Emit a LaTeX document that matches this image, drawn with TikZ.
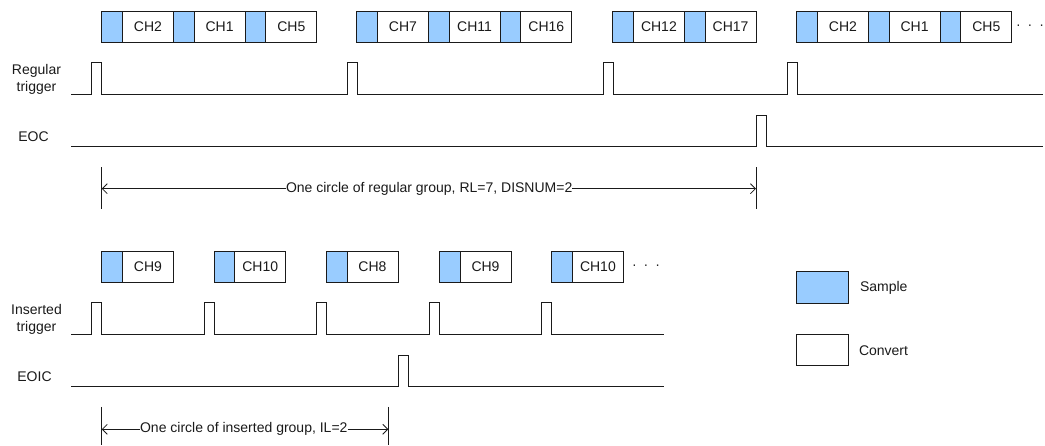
\documentclass[tikz,border=0pt]{standalone}
\usepackage{fontspec}
\setmainfont{Liberation Sans}
\usetikzlibrary{arrows.meta}
\definecolor{sblue}{HTML}{99CCFF}
\definecolor{ink}{HTML}{1A1A1A}
\newcommand\chan[4]{%
  \node[samp] (#1s) at (#2,#3) {};
  \node[conv] (#1c) at (#1s.north east) {#4};}
\begin{document}
\begin{tikzpicture}[x=1pt,y=-1pt,
  every node/.style={font=\fontsize{14}{17}\selectfont, inner sep=0pt, outer sep=0pt, text=ink},
  samp/.style={draw=ink, line width=0.8pt, fill=sblue, minimum width=20.7pt, minimum height=31.7pt, anchor=north west},
  conv/.style={draw=ink, line width=0.8pt, fill=white, minimum width=51pt, minimum height=31.7pt, anchor=north west},
  wave/.style={draw=ink, line width=0.8pt},
  tickline/.style={draw=ink, line width=0.8pt},
  dim/.style={draw=ink, line width=0.8pt, -{Straight Barb[length=5pt,width=10pt]}},
  lab/.style={align=center},
  dots/.style={anchor=center}]
\useasboundingbox (0,0) rectangle (1045,446);

% ---- regular group boxes
\chan{ra}{101.7}{11}{CH2}
\chan{rb}{173.4}{11}{CH1}
\chan{rc}{245.1}{11}{CH5}
\chan{rd}{356.7}{11}{CH7}
\chan{re}{428.4}{11}{CH11}
\chan{rf}{500.1}{11}{CH16}
\chan{rg}{612.7}{11}{CH12}
\chan{rh}{684.4}{11}{CH17}
\chan{ri}{796.7}{11}{CH2}
\chan{rj}{868.4}{11}{CH1}
\chan{rk}{940.1}{11}{CH5}
\node[dots] (rdots) at (1030,27) {·\hspace{7pt}·\hspace{7pt}·};

% ---- labels
\node[lab] (lreg) at (36.5,79.5) {Regular\\trigger};
\node (leoc) at (33.5,137) {EOC};
\node[lab] (lins) at (36.5,319.5) {Inserted\\trigger};
\node (leoic) at (34.5,377) {EOIC};

% ---- regular trigger
\draw[wave] (71,94.3) -- (91.7,94.3) |- (101.7,62.7) -- (101.7,94.3)
  -- (347,94.3) |- (357,62.7) -- (357,94.3)
  -- (603,94.3) |- (613,62.7) -- (613,94.3)
  -- (787,94.3) |- (797,62.7) -- (797,94.3) -- (1042.7,94.3);
% ---- EOC
\draw[wave] (71,146) -- (756,146) |- (766.5,115.7) -- (766.5,146) -- (1042.7,146);

% ---- regular dimension
\draw[tickline] (101.7,167.3) -- (101.7,209.3);
\draw[tickline] (756,167.3) -- (756,209.3);
\coordinate (d1l) at (101.7,188.7);
\coordinate (d1r) at (756,188.7);
\node[anchor=base] (d1t) at (429.2,192.5) {One circle of regular group, RL=7, DISNUM=2};
\draw[dim] (d1t.west |- d1l) -- (d1l);
\draw[dim] (d1t.east |- d1r) -- (d1r);

% ---- inserted group boxes
\chan{ia}{101.7}{251}{CH9}
\chan{ib}{214}{251}{CH10}
\chan{ic}{326.3}{251}{CH8}
\chan{id}{439.3}{251}{CH9}
\chan{ie}{551.7}{251}{CH10}
\node[dots] (idots) at (646,267) {·\hspace{7pt}·\hspace{7pt}·};

% ---- inserted trigger
\draw[wave] (71,334.3) -- (91.7,334.3) |- (101.7,302.7) -- (101.7,334.3)
  -- (204,334.3) |- (214,302.7) -- (214,334.3)
  -- (316.3,334.3) |- (326.3,302.7) -- (326.3,334.3)
  -- (429.3,334.3) |- (439.3,302.7) -- (439.3,334.3)
  -- (541.7,334.3) |- (551.7,302.7) -- (551.7,334.3) -- (664.3,334.3);
% ---- EOIC
\draw[wave] (71,386) -- (398.3,386) |- (408.7,355) -- (408.7,386) -- (664.3,386);

% ---- inserted dimension
\draw[tickline] (101.7,407) -- (101.7,445);
\draw[tickline] (388.3,407) -- (388.3,445);
\coordinate (d2l) at (101.7,429.3);
\coordinate (d2r) at (388.3,429.3);
\node[anchor=base] (d2t) at (243.8,433) {One circle of inserted group, IL=2};
\draw[dim] (d2t.west |- d2l) -- (d2l);
\draw[dim] (d2t.east |- d2r) -- (d2r);

% ---- legend
\node[samp, minimum width=51.6pt, line width=1pt] (legs) at (796.7,271.7) {};
\node[anchor=west] (legsl) at (860,287.7) {Sample};
\node[conv, minimum width=51.6pt, line width=1pt] (legc) at (796.7,334.3) {};
\node[anchor=west] (legcl) at (859,350.7) {Convert};
\end{tikzpicture}
\end{document}
